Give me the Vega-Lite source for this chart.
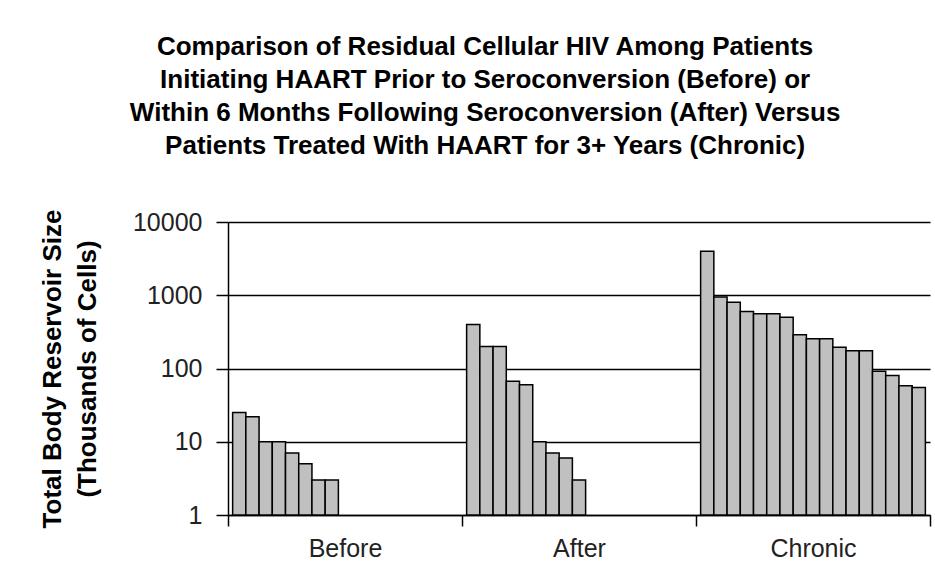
{
  "$schema": "https://vega.github.io/schema/vega-lite/v6.json",
  "width": 702,
  "height": 293,
  "autosize": {"type": "none"},
  "padding": {"left": 228, "top": 222, "right": 5, "bottom": 71},
  "background": "white",
  "title": {
    "text": [
      "Comparison of Residual Cellular HIV Among Patients",
      "Initiating HAART Prior to Seroconversion (Before) or",
      "Within 6 Months Following Seroconversion (After) Versus",
      "Patients Treated With HAART for 3+ Years (Chronic)"
    ],
    "font": "Liberation Sans",
    "fontSize": 26,
    "fontWeight": "bold",
    "color": "black",
    "lineHeight": 33,
    "anchor": "middle",
    "frame": "bounds",
    "offset": 50
  },
  "data": {
    "values": [
      {"group": "Before", "idx": 1, "value": 25},
      {"group": "Before", "idx": 2, "value": 22},
      {"group": "Before", "idx": 3, "value": 10},
      {"group": "Before", "idx": 4, "value": 10},
      {"group": "Before", "idx": 5, "value": 7},
      {"group": "Before", "idx": 6, "value": 5},
      {"group": "Before", "idx": 7, "value": 3},
      {"group": "Before", "idx": 8, "value": 3},
      {"group": "After", "idx": 1, "value": 400},
      {"group": "After", "idx": 2, "value": 200},
      {"group": "After", "idx": 3, "value": 200},
      {"group": "After", "idx": 4, "value": 67},
      {"group": "After", "idx": 5, "value": 60},
      {"group": "After", "idx": 6, "value": 10},
      {"group": "After", "idx": 7, "value": 7},
      {"group": "After", "idx": 8, "value": 6},
      {"group": "After", "idx": 9, "value": 3},
      {"group": "Chronic", "idx": 1, "value": 4000},
      {"group": "Chronic", "idx": 2, "value": 950},
      {"group": "Chronic", "idx": 3, "value": 800},
      {"group": "Chronic", "idx": 4, "value": 600},
      {"group": "Chronic", "idx": 5, "value": 560},
      {"group": "Chronic", "idx": 6, "value": 560},
      {"group": "Chronic", "idx": 7, "value": 500},
      {"group": "Chronic", "idx": 8, "value": 290},
      {"group": "Chronic", "idx": 9, "value": 255},
      {"group": "Chronic", "idx": 10, "value": 255},
      {"group": "Chronic", "idx": 11, "value": 195},
      {"group": "Chronic", "idx": 12, "value": 175},
      {"group": "Chronic", "idx": 13, "value": 175},
      {"group": "Chronic", "idx": 14, "value": 92},
      {"group": "Chronic", "idx": 15, "value": 80},
      {"group": "Chronic", "idx": 16, "value": 58},
      {"group": "Chronic", "idx": 17, "value": 55}
    ]
  },
  "mark": {"type": "bar", "fill": "#c0c0c0", "stroke": "black", "strokeWidth": 1.5},
  "encoding": {
    "x": {
      "field": "group",
      "type": "nominal",
      "sort": ["Before", "After", "Chronic"],
      "scale": {"paddingInner": 0, "paddingOuter": 0},
      "axis": {
        "title": null,
        "tickBand": "extent",
        "labelAngle": 0,
        "labelFont": "Liberation Sans",
        "labelFontSize": 25,
        "labelColor": "#222222",
        "labelPadding": 10,
        "tickSize": 11,
        "tickColor": "black",
        "tickWidth": 1.5,
        "domainColor": "black",
        "domainWidth": 1.5,
        "grid": false
      }
    },
    "xOffset": {
      "field": "idx",
      "type": "ordinal",
      "scale": {"paddingInner": 0, "paddingOuter": 0.35}
    },
    "y": {
      "field": "value",
      "type": "quantitative",
      "scale": {"type": "log", "domain": [1, 10000]},
      "axis": {
        "title": ["Total Body Reservoir Size", "(Thousands of Cells)"],
        "titleFont": "Liberation Sans",
        "titleFontSize": 26,
        "titleFontWeight": "bold",
        "titleColor": "black",
        "titleLineHeight": 35,
        "titlePadding": 32,
        "values": [1, 10, 100, 1000, 10000],
        "format": "d",
        "labelFont": "Liberation Sans",
        "labelFontSize": 25,
        "labelColor": "#222222",
        "labelPadding": 14,
        "tickSize": 12,
        "tickColor": "black",
        "tickWidth": 1.5,
        "domainColor": "black",
        "domainWidth": 1.5,
        "grid": true,
        "gridColor": "black",
        "gridWidth": 1.5
      }
    },
    "y2": {"datum": 1}
  },
  "config": {"view": {"stroke": null}}
}
